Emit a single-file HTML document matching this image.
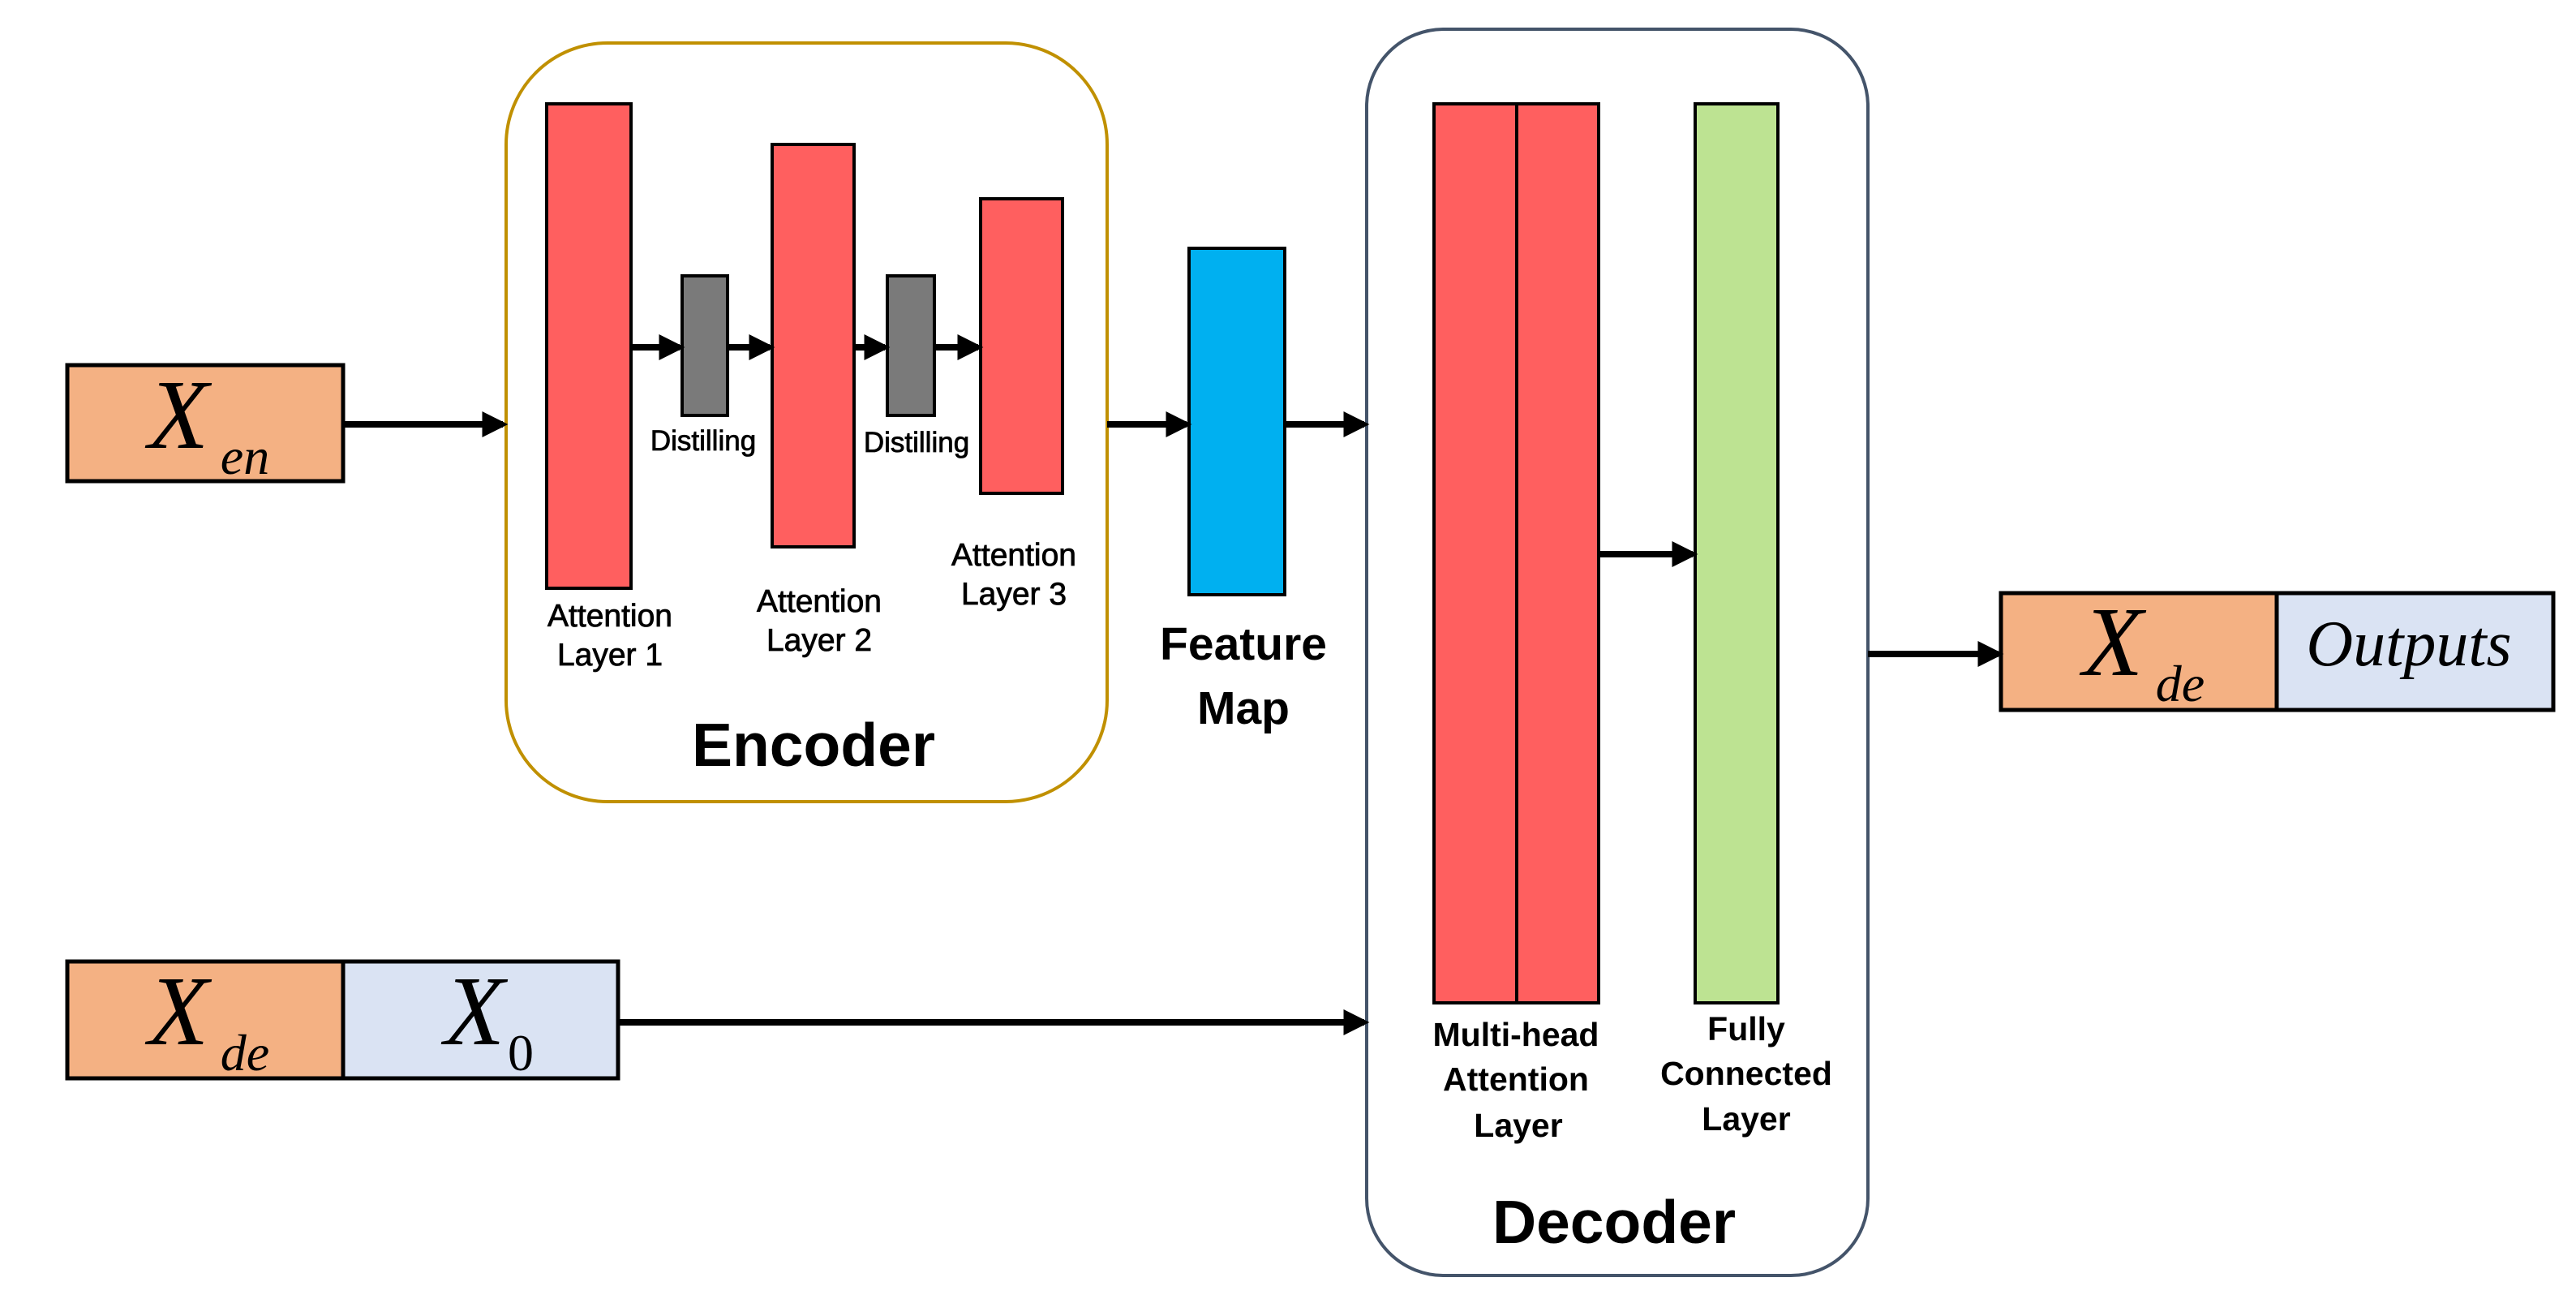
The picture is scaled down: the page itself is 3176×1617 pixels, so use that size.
<!DOCTYPE html>
<html><head><meta charset="utf-8"><style>body{margin:0;background:#fff}svg{display:block}</style></head><body>
<svg width="3176" height="1617" viewBox="0 0 3176 1617" xmlns="http://www.w3.org/2000/svg">
<defs>
<marker id="ah" markerWidth="4" markerHeight="4" refX="3.2" refY="2" orient="auto" markerUnits="strokeWidth"><path d="M0,0 L4,2 L0,4 z" fill="#000"/></marker>
</defs>
<g font-family="Liberation Sans, sans-serif">
<rect x="624" y="53" width="741" height="935" rx="125" fill="#fff" stroke="#C09000" stroke-width="4"/>
<rect x="1685" y="36" width="618" height="1536" rx="95" fill="#fff" stroke="#44546A" stroke-width="4"/>

<rect x="83" y="450" width="340" height="143" fill="#F4B183" stroke="#000" stroke-width="5"/>
<text x="220" y="552" font-family="Liberation Serif, serif" font-style="italic" font-size="122" text-anchor="middle">X</text>
<text x="302" y="584" font-family="Liberation Serif, serif" font-style="italic" font-size="64" text-anchor="middle">en</text>

<rect x="83" y="1185" width="340" height="144" fill="#F4B183" stroke="#000" stroke-width="5"/>
<rect x="423" y="1185" width="339" height="144" fill="#DAE3F3" stroke="#000" stroke-width="5"/>
<text x="220" y="1287" font-family="Liberation Serif, serif" font-style="italic" font-size="122" text-anchor="middle">X</text>
<text x="302" y="1319" font-family="Liberation Serif, serif" font-style="italic" font-size="64" text-anchor="middle">de</text>
<text x="585" y="1287" font-family="Liberation Serif, serif" font-style="italic" font-size="122" text-anchor="middle">X</text>
<text x="642" y="1319" font-family="Liberation Serif, serif" font-size="64" text-anchor="middle">0</text>

<rect x="2467" y="731" width="340" height="144" fill="#F4B183" stroke="#000" stroke-width="5"/>
<rect x="2807" y="731" width="341" height="144" fill="#DAE3F3" stroke="#000" stroke-width="5"/>
<text x="2605" y="832" font-family="Liberation Serif, serif" font-style="italic" font-size="122" text-anchor="middle">X</text>
<text x="2688" y="864" font-family="Liberation Serif, serif" font-style="italic" font-size="64" text-anchor="middle">de</text>
<text x="2970" y="820" font-family="Liberation Serif, serif" font-style="italic" font-size="80" text-anchor="middle">Outputs</text>

<rect x="674" y="128" width="104" height="597" fill="#FF5F5F" stroke="#000" stroke-width="4"/>
<rect x="841" y="340" width="56" height="172" fill="#7A7A7A" stroke="#000" stroke-width="4"/>
<rect x="952" y="178" width="101" height="496" fill="#FF5F5F" stroke="#000" stroke-width="4"/>
<rect x="1094" y="340" width="58" height="172" fill="#7A7A7A" stroke="#000" stroke-width="4"/>
<rect x="1209" y="245" width="101" height="363" fill="#FF5F5F" stroke="#000" stroke-width="4"/>

<rect x="1466" y="306" width="118" height="427" fill="#00B0F0" stroke="#000" stroke-width="4"/>

<rect x="1768" y="128" width="102" height="1108" fill="#FF5F5F" stroke="#000" stroke-width="4"/>
<rect x="1870" y="128" width="101" height="1108" fill="#FF5F5F" stroke="#000" stroke-width="4"/>
<rect x="2090" y="128" width="102" height="1108" fill="#BDE392" stroke="#000" stroke-width="4"/>

<g stroke="#000" stroke-width="8" marker-end="url(#ah)">
<line x1="423" y1="523" x2="620" y2="523"/>
<line x1="778" y1="428" x2="838" y2="428"/>
<line x1="897" y1="428" x2="949" y2="428"/>
<line x1="1053" y1="428" x2="1091" y2="428"/>
<line x1="1152" y1="428" x2="1206" y2="428"/>
<line x1="1365" y1="523" x2="1463" y2="523"/>
<line x1="1584" y1="523" x2="1682" y2="523"/>
<line x1="762" y1="1260" x2="1682" y2="1260"/>
<line x1="1971" y1="683" x2="2087" y2="683"/>
<line x1="2303" y1="806" x2="2464" y2="806"/>
</g>

<g font-size="39" text-anchor="middle" fill="#000" stroke="#000" stroke-width="0.8">
<text x="752" y="772">Attention</text><text x="752" y="820">Layer 1</text>
<text x="1010" y="754">Attention</text><text x="1010" y="802">Layer 2</text>
<text x="1250" y="697">Attention</text><text x="1250" y="745">Layer 3</text>
<text x="867" y="555" font-size="35">Distilling</text>
<text x="1130" y="557" font-size="35">Distilling</text>
</g>
<g font-weight="bold" text-anchor="middle" fill="#000">
<text x="1533" y="813" font-size="57">Feature</text>
<text x="1533" y="892" font-size="57">Map</text>
<text x="1003" y="944" font-size="75">Encoder</text>
<text x="1990" y="1532" font-size="75">Decoder</text>
</g>
<g font-size="41" text-anchor="middle" fill="#000" font-weight="bold">
<text x="1869" y="1289">Multi-head</text>
<text x="1869" y="1344">Attention</text>
<text x="1872" y="1401">Layer</text>
<text x="2153" y="1282">Fully</text>
<text x="2153" y="1337">Connected</text>
<text x="2153" y="1393">Layer</text>
</g>
</g>
</svg>
</body></html>
